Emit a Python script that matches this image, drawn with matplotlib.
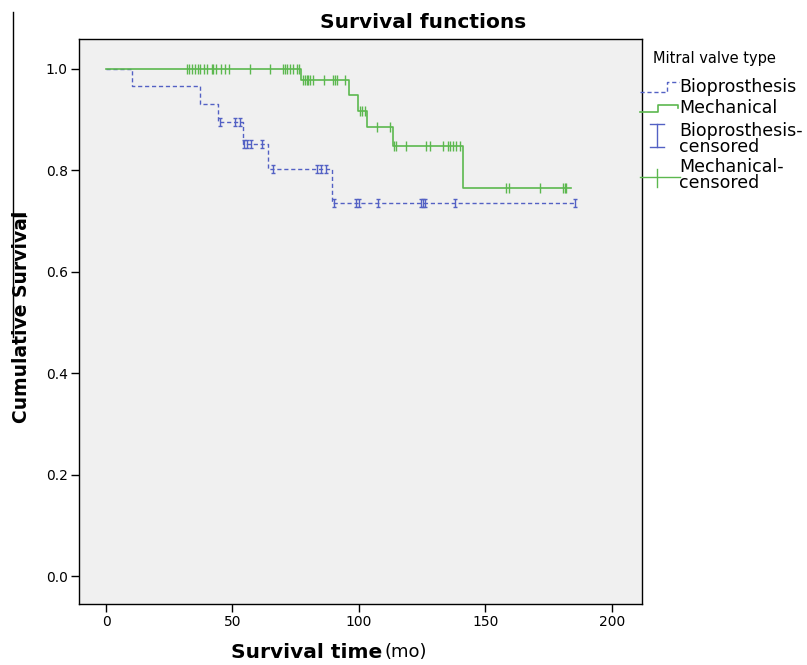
import numpy as np
import matplotlib
matplotlib.use("Agg")
import matplotlib.pyplot as plt
from matplotlib.path import Path
from matplotlib.lines import Line2D

# Kaplan-Meier steps (time in months, cumulative survival)
mech_t = [0, 77.3, 96.0, 99.5, 103.4, 113.6, 141.2, 184.0]
mech_s = [1.0, 0.978, 0.948, 0.917, 0.885, 0.849, 0.765, 0.765]
bio_t = [0, 10.4, 37.2, 44.1, 54.3, 64.2, 89.2, 185.4]
bio_s = [1.0, 0.967, 0.931, 0.896, 0.852, 0.803, 0.735, 0.735]

# censored observations
mech_cens = [31.9, 32.9, 33.9, 35.2, 36.5, 37.2, 38.7, 39.8, 41.8, 42.4, 43.5,
             45.3, 47.0, 48.7, 56.9, 64.8, 70.1, 70.8, 71.4, 72.7, 74.0, 75.4,
             76.4, 78.0, 78.7, 79.3, 80.0, 80.6, 81.9, 86.2, 89.8, 90.5, 91.4,
             94.5, 100.4, 101.4, 102.4, 107.2, 112.3, 113.9, 114.5, 118.6,
             126.5, 128.3, 133.3, 135.3, 136.2, 137.3, 138.6, 139.9, 158.4,
             159.2, 171.5, 180.7, 181.4, 182.1]
bio_cens = [45.1, 51.2, 53.0, 54.6, 55.6, 57.2, 61.5, 66.1, 83.3, 85.2, 87.2,
            90.2, 98.9, 99.9, 107.4, 124.5, 125.2, 126.0, 138.2, 185.4]

green = "#5cb84f"
blue = "#5361c4"
W, H = 807, 665


def surv_at(ts, ss, c):
    idx = np.searchsorted(ts, c, side="right") - 1
    return np.array(ss)[idx]


ibeam = Path([(-0.22, 0.5), (0.22, 0.5), (0, 0.5), (0, -0.5), (-0.22, -0.5), (0.22, -0.5)],
             [Path.MOVETO, Path.LINETO, Path.MOVETO, Path.LINETO, Path.MOVETO, Path.LINETO])

fig = plt.figure(figsize=(W / 100, H / 100), dpi=100)
ax = fig.add_axes([79 / W, 1 - 604 / H, (642 - 79) / W, (604 - 39) / H])
ax.set_facecolor("#f0f0f0")

ax.step(bio_t, bio_s, where="post", color=blue, lw=1.0, linestyle=(0, (3, 2)))
ax.step(mech_t, mech_s, where="post", color=green, lw=1.2)
ax.plot(bio_cens, surv_at(bio_t, bio_s, bio_cens), linestyle="none", marker=ibeam,
        markersize=6, markeredgewidth=1.0, color=blue, markerfacecolor="none")
ax.plot(mech_cens, surv_at(mech_t, mech_s, mech_cens), linestyle="none", marker="|",
        markersize=6.5, markeredgewidth=1.0, color=green)

ax.set_xlim(-10.7, 212)
ax.set_ylim(-0.055, 1.059)
ax.set_xticks([0, 50, 100, 150, 200])
ax.set_yticks([0.0, 0.2, 0.4, 0.6, 0.8, 1.0])
ax.set_yticklabels(["0.0", "0.2", "0.4", "0.6", "0.8", "1.0"])
ax.tick_params(length=6, width=1, pad=2, labelsize=10)
for sp in ax.spines.values():
    sp.set_linewidth(1.0)

fig.text(423 / W, 1 - 22 / H, "Survival functions", fontsize=14.5, fontweight="bold",
         ha="center", va="center")
fig.text(21.5 / W, 1 - 317 / H, "Cumulative Survival", fontsize=13.5, fontweight="bold",
         rotation=90, ha="center", va="center")
fig.text(382 / W, 1 - 652 / H, "Survival time", fontsize=14.5, fontweight="bold",
         ha="right", va="center")
fig.text(385 / W, 1 - 652 / H, "(mo)", fontsize=13, ha="left", va="center")


def fline(xs, ys, **kw):
    fig.add_artist(Line2D([x / W for x in xs], [1 - y / H for y in ys],
                          transform=fig.transFigure, **kw))


# stray line on the left edge
fline([13, 13], [12, 337], color="black", lw=1.0)
fline([13, 26], [216, 216], color="black", lw=1.0)

# legend
fig.text(653 / W, 1 - 58 / H, "Mitral valve type", fontsize=10.5, va="center")
fline([640, 667, 667, 679], [91.5, 91.5, 82, 82], color=blue, lw=1.0, linestyle=(0, (3, 2)))
fig.text(679 / W, 1 - 87 / H, "Bioprosthesis", fontsize=12.5, va="center")
fline([640, 658, 658, 678, 678], [112, 112, 105, 105, 108], color=green, lw=1.2)
fig.text(679 / W, 1 - 108 / H, "Mechanical", fontsize=12.5, va="center")
fline([650, 664], [124, 124], color=blue, lw=1.0)
fline([657, 657], [124, 147], color=blue, lw=1.0)
fline([650, 664], [147, 147], color=blue, lw=1.0)
fig.text(679 / W, 1 - 139 / H, "Bioprosthesis-\ncensored", fontsize=12.5, va="center",
         linespacing=0.9)
fline([640, 680], [177, 177], color=green, lw=1.0)
fline([657, 657], [169, 187], color=green, lw=1.0)
fig.text(679 / W, 1 - 175 / H, "Mechanical-\ncensored", fontsize=12.5, va="center",
         linespacing=0.9)

fig.savefig("out.png", dpi=100)
